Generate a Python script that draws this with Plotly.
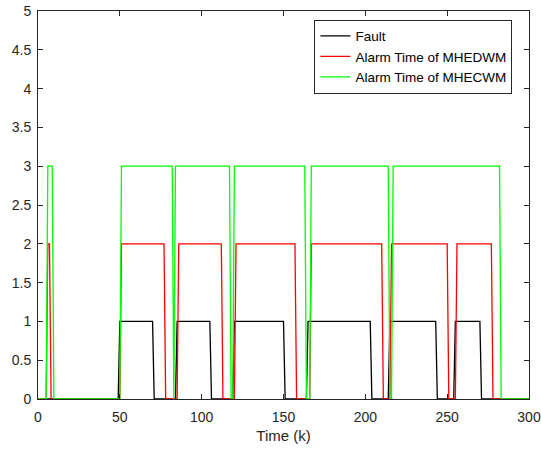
import plotly.graph_objects as go

# Corner points of each step signal (time k, value)
fault_x = [0, 49, 50, 70, 71, 84, 85, 105, 106, 119, 120, 150, 151, 164, 165, 203, 204, 214, 215, 243, 244, 254, 255, 270, 271, 300]
fault_y = [0, 0, 1, 1, 0, 0, 1, 1, 0, 0, 1, 1, 0, 0, 1, 1, 0, 0, 1, 1, 0, 0, 1, 1, 0, 0]

mhedwm_x = [0, 5, 6, 7, 8, 50, 51, 77, 78, 85, 86, 112, 113, 120, 121, 157, 158, 166, 167, 210, 211, 215, 216, 250, 251, 255, 256, 277, 278, 300]
mhedwm_y = [0, 0, 2, 2, 0, 0, 2, 2, 0, 0, 2, 2, 0, 0, 2, 2, 0, 0, 2, 2, 0, 0, 2, 2, 0, 0, 2, 2, 0, 0]

mhecwm_x = [0, 5, 6, 8.7, 9.7, 50, 51, 82, 83, 84, 117, 118, 119, 120, 163, 164, 166, 167, 214, 215, 216, 217, 282, 283, 300]
mhecwm_y = [0, 0, 3, 3, 0, 0, 3, 3, 0, 3, 3, 0, 0, 3, 3, 0, 0, 3, 3, 0, 0, 3, 3, 0, 0]

x_ticks = [0, 50, 100, 150, 200, 250, 300]
y_ticks = [0, 0.5, 1, 1.5, 2, 2.5, 3, 3.5, 4, 4.5, 5]
y_labels = ["0", "0.5", "1", "1.5", "2", "2.5", "3", "3.5", "4", "4.5", "5"]

FONT = "Liberation Sans, Arial"

fig = go.Figure()
fig.add_trace(go.Scatter(x=fault_x, y=fault_y, mode="lines", name="Fault",
                         line=dict(color="#000000", width=1.3)))
fig.add_trace(go.Scatter(x=mhedwm_x, y=mhedwm_y, mode="lines", name="Alarm Time of MHEDWM",
                         line=dict(color="#ff0000", width=1.3)))
fig.add_trace(go.Scatter(x=mhecwm_x, y=mhecwm_y, mode="lines", name="Alarm Time of MHECWM",
                         line=dict(color="#00ff00", width=1.3)))

axis_common = dict(showgrid=False, zeroline=False, showline=True, linecolor="#262626",
                   linewidth=1, mirror="allticks", ticks="inside", ticklen=5, automargin=False,
                   ticklabeloverflow="allow",
                   tickcolor="#262626", tickfont=dict(family=FONT, size=14, color="#262626"))

fig.update_xaxes(range=[0, 300], tickvals=x_ticks, ticktext=[str(v) for v in x_ticks],
                 ticklabelstandoff=5,
                 title=dict(text="Time (k)", font=dict(family=FONT, size=15, color="#262626"), standoff=6),
                 **axis_common)
fig.update_yaxes(range=[0, 5], tickvals=y_ticks, ticktext=y_labels, ticklabelstandoff=3, **axis_common)

fig.update_layout(
    width=541, height=450,
    margin=dict(l=38, r=12, t=11, b=51),
    plot_bgcolor="white", paper_bgcolor="white",
    font=dict(family=FONT, size=13, color="#000000"),
    legend=dict(x=0.563, y=0.978, xanchor="left", yanchor="top",
                bgcolor="white", bordercolor="#262626", borderwidth=1,
                font=dict(family=FONT, size=13.5, color="#000000"), tracegroupgap=0, itemwidth=30),
    showlegend=True,
)

fig.write_html("out.html", config={"displayModeBar": False},
               post_script="document.body.style.margin='0';document.body.style.padding='0';document.body.style.overflow='hidden';")
